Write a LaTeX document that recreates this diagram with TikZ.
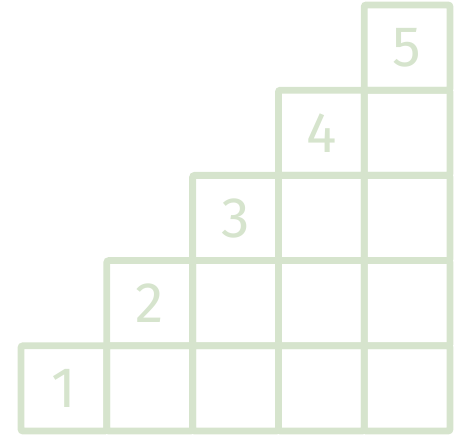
\documentclass[tikz,border=0pt]{standalone}
\usepackage{fontspec}
\setmainfont{Fira Sans}
\usetikzlibrary{positioning}
\definecolor{stair}{RGB}{214,228,205}

\begin{document}
\begin{tikzpicture}[
  x=1pt, y=-1pt,
  cell/.style={rectangle, draw=stair, line width=6.8pt, rounded corners=2pt, minimum width=85.8pt, minimum height=85.2pt, inner sep=0pt, outer sep=0pt, text=stair, font=\fontsize{57}{57}\selectfont},
]
  \useasboundingbox (0,0) rectangle (460,435);
  \foreach \c in {1,...,5}{
    \foreach \r in {1,...,\c}{
      \node[cell] (cell\c-\r) at ({63.9+85.8*(\c-1)}, {388.4-85.2*(\r-1)}) {\ifnum\r=\c\relax\c\fi};
    }
  }
\end{tikzpicture}
\end{document}
